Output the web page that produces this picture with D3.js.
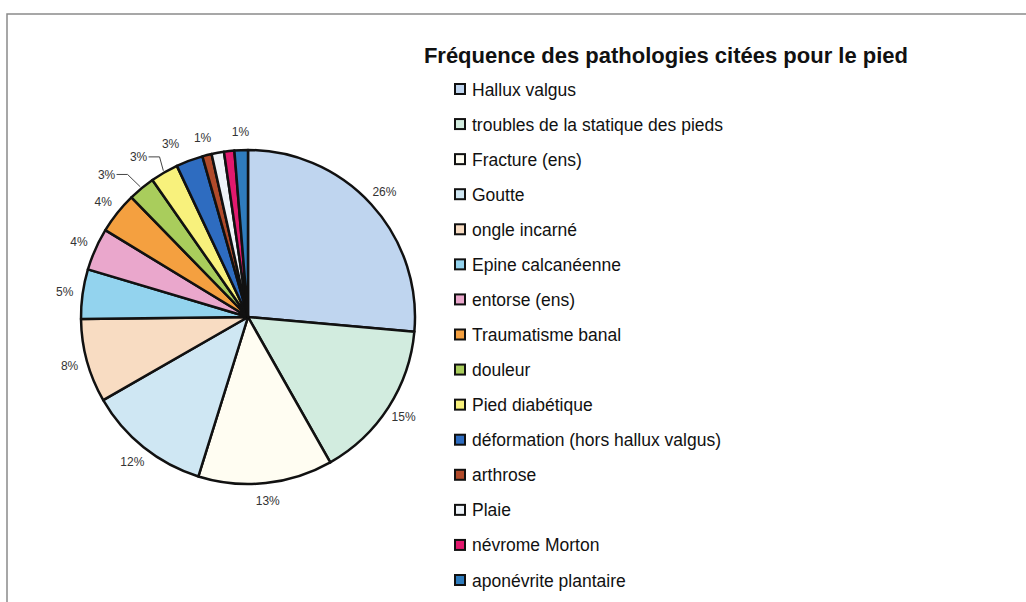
<!DOCTYPE html>
<html>
<head>
<meta charset="utf-8">
<script src="https://cdn.jsdelivr.net/npm/d3@7"></script>
<style>
  body { margin: 0; background: #fff; }
  svg { display: block; font-family: "Liberation Sans", Arial, sans-serif; }
</style>
</head>
<body>
<div id="chartDiv"></div>
<script>
// data (percent of citations)
var categories = ["Hallux valgus", "troubles de la statique des pieds", "Fracture (ens)", "Goutte",
    "ongle incarné", "Epine calcanéenne", "entorse (ens)", "Traumatisme banal", "douleur",
    "Pied diabétique", "déformation (hors hallux valgus)", "arthrose", "Plaie", "névrome Morton",
    "aponévrite plantaire"];
var values = [26.4, 15.4, 13.0, 11.9, 8.1, 4.8, 4.1, 4.0, 2.6, 2.7, 2.6, 0.9, 1.2, 1.0, 1.3];
var colors = ["#bfd5ef", "#d2ecdf", "#fffdf2", "#cfe7f3", "#f8dcc2", "#93d3ee", "#eaa7cc", "#f4a040",
    "#a9cd5c", "#f8f17c", "#2e6cc0", "#b04a2a", "#eef3f8", "#e2196e", "#2f7cbd"];
var title = "Fréquence des pathologies citées pour le pied";

var width = 1026,
    height = 602;

var svg = d3.select("#chartDiv")
    .append("svg")
    .attr("width", width)
    .attr("height", height);

// frame of the chart area (runs off the right and bottom)
svg.append("rect")
    .attr("x", 7).attr("y", 14)
    .attr("width", width + 20).attr("height", height + 20)
    .attr("fill", "none")
    .attr("stroke", "#8a8a8a")
    .attr("stroke-width", 1.5);

var cx = 248, cy = 317, radius = 167;
var total = d3.sum(values);

var pie = d3.pie().sort(null).value(function (d) { return d; });
var arcs = pie(values);
var arc = d3.arc().innerRadius(0).outerRadius(radius);

var g = svg.append("g").attr("transform", "translate(" + cx + "," + cy + ")");

g.selectAll("path.slice")
    .data(arcs)
    .enter().append("path")
    .attr("class", "slice")
    .attr("d", arc)
    .attr("fill", function (d, i) { return colors[i]; })
    .attr("stroke", "#111")
    .attr("stroke-width", 2.5)
    .attr("stroke-linejoin", "round");

// percentage labels, pushed left (only) where they collide
var labelR = radius + 18, boxW = 22, boxH = 12, gap = 10;
var labels = arcs.map(function (d, i) {
    var a = (d.startAngle + d.endAngle) / 2;
    var x = Math.sin(a) * labelR, y = -Math.cos(a) * labelR;
    return { i: i, a: a, x: x, y: y, x0: x, share: d.value / total,
        text: Math.round(d.value / total * 100) + "%", show: true };
});

var placed = [];
labels.slice().sort(function (p, q) { return q.a - p.a; }).forEach(function (l) {
    for (var k = 0; k < 20; k++) {
        var hit = placed.filter(function (p) {
            return Math.abs(l.y - p.y) < boxH + gap && Math.abs(l.x - p.x) < boxW + gap;
        });
        if (!hit.length) break;
        if (l.share < 0.02) { l.show = false; break; }
        l.x = d3.min(hit, function (p) { return p.x; }) - (boxW + gap);
    }
    if (l.show) placed.push(l);
});

var shown = labels.filter(function (l) { return l.show; });

g.selectAll("text.pct")
    .data(shown)
    .enter().append("text")
    .attr("class", "pct")
    .attr("x", function (d) { return d.x; })
    .attr("y", function (d) { return d.y + 4.3; })
    .attr("text-anchor", "middle")
    .attr("font-size", 12)
    .attr("fill", "#333")
    .text(function (d) { return d.text; });

// leader lines for the labels that had to move far
g.selectAll("polyline.leader")
    .data(shown.filter(function (l) { return Math.abs(l.x - l.x0) > 14; }))
    .enter().append("polyline")
    .attr("class", "leader")
    .attr("fill", "none")
    .attr("stroke", "#444")
    .attr("stroke-width", 1)
    .attr("points", function (d) {
        var x1 = d.x + boxW / 2 - 1, y1 = d.y;
        var x2 = x1 + 11;
        var ax = Math.sin(d.a) * (radius + 2), ay = -Math.cos(d.a) * (radius + 2);
        return [[x1, y1], [x2, y1], [ax, ay]].map(function (p) { return p.join(","); }).join(" ");
    });

// title
svg.append("text")
    .attr("x", 908)
    .attr("y", 63)
    .attr("text-anchor", "end")
    .attr("font-size", 22)
    .attr("font-weight", "bold")
    .attr("fill", "#111")
    .text(title);

// legend
var rowY = d3.scalePoint().domain(categories).range([89, 580]);
var legend = svg.append("g").attr("class", "legend");
var item = legend.selectAll("g")
    .data(categories)
    .enter().append("g")
    .attr("transform", function (d) { return "translate(454," + rowY(d) + ")"; });

item.append("rect")
    .attr("x", 1).attr("y", -5)
    .attr("width", 10).attr("height", 10)
    .attr("fill", function (d, i) { return colors[i]; })
    .attr("stroke", "#111")
    .attr("stroke-width", 2);

item.append("text")
    .attr("x", 18)
    .attr("y", 6.5)
    .attr("font-size", 17.5)
    .attr("fill", "#111")
    .text(function (d) { return d; });
</script>
</body>
</html>
